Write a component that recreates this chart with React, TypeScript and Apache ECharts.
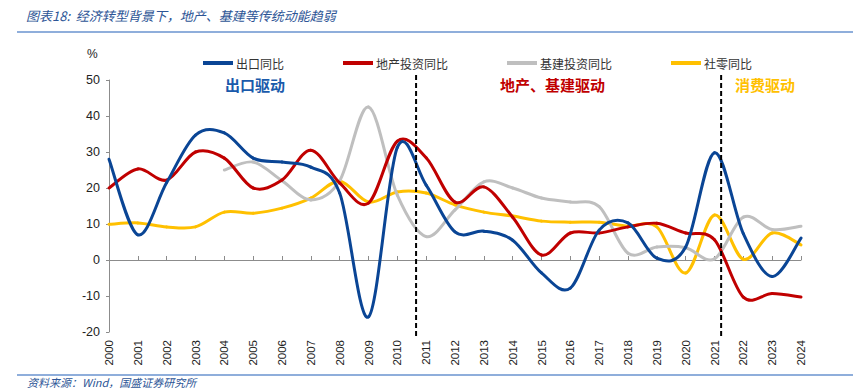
import React, { useEffect, useRef } from 'react';
import * as echarts from 'echarts';

const years = ['2000', '2001', '2002', '2003', '2004', '2005', '2006', '2007', '2008', '2009', '2010', '2011', '2012', '2013', '2014', '2015', '2016', '2017', '2018', '2019', '2020', '2021', '2022', '2023', '2024'];

const exportYoY = [28, 7, 21.5, 34.7, 35.3, 28.3, 27.2, 25.8, 18.6, -15.8, 31.3, 20.8, 7.8, 8, 5.5, -3.6, -7.8, 8.3, 10.3, 0.5, 3.6, 29.8, 7.3, -4.6, 6.1];
const realEstateYoY = [20, 25.3, 22.2, 30, 28.3, 20, 22.2, 30.5, 21.4, 15.8, 33, 28.4, 16.1, 20.3, 11.9, 1.4, 7.5, 7.5, 9.2, 10.2, 7.5, 5.6, -10.3, -9.3, -10.3];
const infraYoY = [null, null, null, null, 25, 27.2, 22, 16.7, 22, 42.5, 18, 6.5, 13.9, 21.7, 20, 17.2, 16.1, 14.8, 1.9, 3.6, 3.4, 0.3, 11.9, 8.5, 9.4];
const retailYoY = [9.9, 10.3, 9.2, 9.2, 13.3, 13, 14.4, 17.2, 21.9, 16.1, 18.9, 18.6, 15.3, 13.3, 12.2, 10.8, 10.5, 10.5, 9.4, 9.2, -3.6, 12.5, 0.2, 7.5, 4.2];

const seriesNames = ['出口同比', '地产投资同比', '基建投资同比', '社零同比'];
const seriesColors = ['#0a4595', '#c00000', '#bfbfbf', '#ffc000'];
const yTicks = { min: -20, max: 50, interval: 10 };
// period boundaries (fractional year positions)
const dividers = [2010.65, 2021.23];

const titleText = '图表18:  经济转型背景下，地产、基建等传统动能趋弱';
const sourceText = '资料来源：Wind，国盛证券研究所';
const periodLabels = [
  { text: '出口驱动', color: '#1a5aab', x: 225 },
  { text: '地产、基建驱动', color: '#c00000', x: 500 },
  { text: '消费驱动', color: '#ffc000', x: 735 },
];

const FONT = '"Noto Sans CJK SC", "Noto Sans", sans-serif';
const NUMFONT = '"Liberation Sans", "DejaVu Sans", sans-serif';

// Excel-like (Catmull-Rom) smoothed line: each item draws the bezier segment to the next item
const makeRenderItem = (data: (number | null)[], color: string) => (params: any, api: any) => {
  const i = params.dataIndex;
  const n = data.length;
  if (i >= n - 1) return null;
  if (data[i] == null || data[i + 1] == null) return null;
  const P = (k: number) => api.coord([k, data[k]]);
  const p0 = P(i);
  const p1 = P(i + 1);
  const pm = i - 1 >= 0 && data[i - 1] != null ? P(i - 1) : p0;
  const pp = i + 2 < n && data[i + 2] != null ? P(i + 2) : p1;
  const t = 1 / 6;
  return {
    type: 'bezierCurve',
    shape: {
      x1: p0[0], y1: p0[1],
      x2: p1[0], y2: p1[1],
      cpx1: p0[0] + (p1[0] - pm[0]) * t,
      cpy1: p0[1] + (p1[1] - pm[1]) * t,
      cpx2: p1[0] - (pp[0] - p0[0]) * t,
      cpy2: p1[1] - (pp[1] - p0[1]) * t,
    },
    style: { stroke: color, lineWidth: 3, fill: 'none', lineCap: 'round' },
  };
};

export default function App() {
  const ref = useRef<HTMLDivElement>(null);
  useEffect(() => {
    if (!ref.current) return;
    const chart = echarts.init(ref.current, undefined, { renderer: 'svg' });
    const dataSets = [exportYoY, realEstateYoY, infraYoY, retailYoY];
    const option: any = {
      animation: false,
      backgroundColor: '#fff',
      grid: { left: 109, right: 52, top: 80, bottom: 56, containLabel: false },
      legend: {
        data: seriesNames.map((name) => ({ name, icon: 'rect' })),
        left: 198,
        top: 52,
        itemWidth: 30,
        itemHeight: 4,
        itemGap: 59,
        textStyle: { fontSize: 12, color: '#333', fontFamily: FONT, padding: [0, 0, 0, -2] },
      },
      xAxis: [
        {
          type: 'category',
          data: years,
          boundaryGap: false,
          position: 'bottom',
          axisLine: { show: false, onZero: false },
          axisTick: { show: false },
          axisLabel: { rotate: 90, fontSize: 11.5, color: '#222', fontFamily: NUMFONT, margin: 8, interval: 0 },
        },
        {
          type: 'category',
          data: years,
          boundaryGap: false,
          position: 'bottom',
          axisLine: { show: true, onZero: true, lineStyle: { color: '#8c8c8c', width: 1 } },
          axisTick: { show: true, inside: true, length: 4, interval: 0, lineStyle: { color: '#8c8c8c' } },
          axisLabel: { show: false },
        },
      ],
      yAxis: {
        type: 'value',
        min: yTicks.min,
        max: yTicks.max,
        interval: yTicks.interval,
        axisLine: { show: true, lineStyle: { color: '#8c8c8c', width: 1 } },
        axisTick: { show: true, length: 3, lineStyle: { color: '#8c8c8c' } },
        splitLine: { show: false },
        axisLabel: { fontSize: 12.5, color: '#222', fontFamily: NUMFONT, margin: 9 },
      },
      series: seriesNames.map((name, i) => ({
        name,
        type: 'custom',
        xAxisIndex: 0,
        yAxisIndex: 0,
        data: dataSets[i].map((v, k) => [k, v == null ? '-' : v]),
        encode: { x: 0, y: 1 },
        renderItem: makeRenderItem(dataSets[i], seriesColors[i]),
        itemStyle: { color: seriesColors[i] },
        clip: false,
        silent: true,
        z: 10 - i,
      })),
    };
    chart.setOption(option);

    const px = (yr: number) => {
      const i = Math.floor(yr - 2000);
      const f = yr - 2000 - i;
      const a = chart.convertToPixel({ xAxisIndex: 0 }, years[i]) as number;
      const b = chart.convertToPixel({ xAxisIndex: 0 }, years[i + 1]) as number;
      return a + (b - a) * f;
    };
    const yTop = (chart.convertToPixel({ yAxisIndex: 0 }, yTicks.max) as number) - 5;
    const yBot = (chart.convertToPixel({ yAxisIndex: 0 }, yTicks.min) as number) + 6;

    const graphic: any[] = [
      {
        type: 'text', left: 26, top: 9,
        style: { text: titleText, fill: '#2d5596', font: `italic 13px ${FONT}` },
      },
      { type: 'line', shape: { x1: 17, y1: 32, x2: 853, y2: 32 }, style: { stroke: '#6a93cf', lineWidth: 1.5 } },
      {
        type: 'text', left: 87, top: 48,
        style: { text: '%', fill: '#222', font: `12px ${NUMFONT}` },
      },
      { type: 'line', shape: { x1: 17, y1: 375, x2: 853, y2: 375 }, style: { stroke: '#6a93cf', lineWidth: 1.5 } },
      {
        type: 'text', left: 27, top: 376,
        style: { text: sourceText, fill: '#2d5596', font: `italic 11px ${FONT}` },
      },
      ...periodLabels.map((p) => ({
        type: 'text', left: p.x, top: 77,
        style: { text: p.text, fill: p.color, font: `bold 15px ${FONT}` },
      })),
      ...dividers.map((d) => {
        const x = px(d);
        return {
          type: 'line', z: 100,
          shape: { x1: x, y1: yTop, x2: x, y2: yBot },
          style: { stroke: '#000', lineWidth: 2, lineDash: [5, 3] },
        };
      }),
    ];
    chart.setOption({ graphic });

    return () => chart.dispose();
  }, []);
  return <div ref={ref} style={{ position: 'absolute', left: 0, top: 0, width: 853, height: 388 }} />;
}
